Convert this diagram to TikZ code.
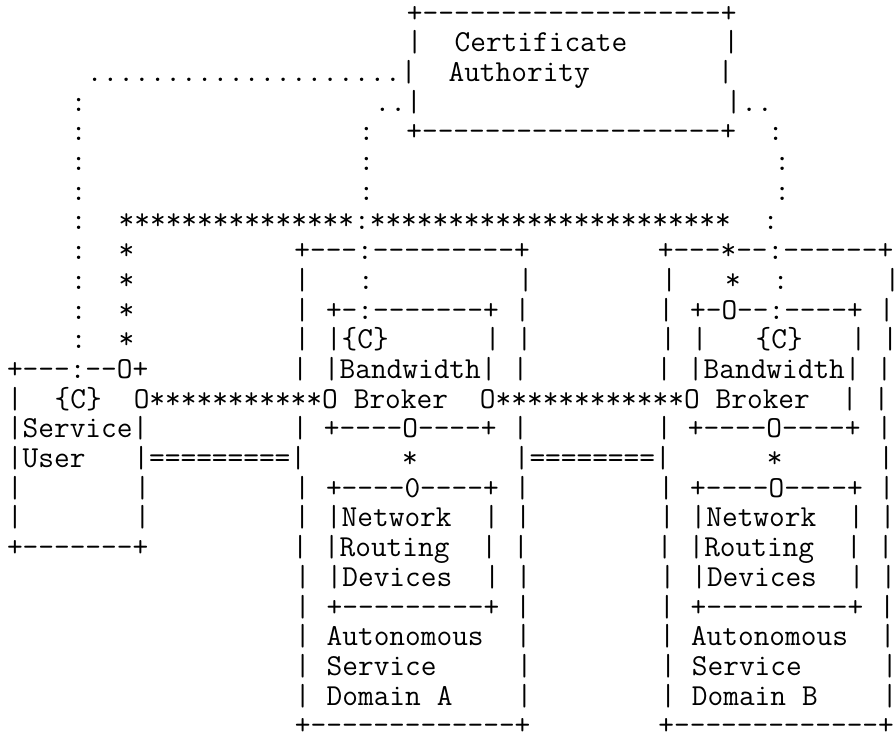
\documentclass[tikz,border=0pt]{standalone}
\usepackage{fontspec}
\setmonofont{Latin Modern Mono}
\newcommand\asciifont{\ttfamily\fontsize{30.476pt}{30pt}\selectfont}
\newcommand\sk[1]{\hspace*{\dimexpr16pt*#1\relax}}
\tikzset{
  asc/.style={anchor=base west, inner sep=0pt, outer sep=0pt, font=\asciifont, text=black},
}
\begin{document}
\begin{tikzpicture}[x=1pt,y=-1pt]
\useasboundingbox (0,0) rectangle (895,745);
\clip (0,0) rectangle (895,745);
\def\lx{7}
\def\ly#1{\fpeval{22+29.7*(#1-1)}}
\node[asc] (l1)  at (\lx,{\ly{1}})  {\sk{25}+-------------------+};
\node[asc] (l2)  at (\lx,{\ly{2}})  {\sk{25}|\sk{2}Certificate\sk{6}|};
\node[asc] (l3)  at (\lx,{\ly{3}})  {\sk{5}....................|\sk{2}Authority\sk{8}|};
\node[asc] (l4)  at (\lx,{\ly{4}})  {\sk{4}:\sk{18}..|\sk{19}|..};
\node[asc] (l5)  at (\lx,{\ly{5}})  {\sk{4}:\sk{17}:\sk{2}+-------------------+\sk{2}:};
\node[asc] (l6)  at (\lx,{\ly{6}})  {\sk{4}:\sk{17}:\sk{25}:};
\node[asc] (l7)  at (\lx,{\ly{7}})  {\sk{4}:\sk{17}:\sk{25}:};
\node[asc] (l8)  at (\lx,{\ly{8}})  {\sk{4}:\sk{2}***************:***********************\sk{2}:};
\node[asc] (l9)  at (\lx,{\ly{9}})  {\sk{4}:\sk{2}*\sk{10}+---:---------+\sk{8}+---*--:------+};
\node[asc] (l10) at (\lx,{\ly{10}}) {\sk{4}:\sk{2}*\sk{10}|\sk{3}:\sk{9}|\sk{8}|\sk{3}*\sk{2}:\sk{6}|};
\node[asc] (l11) at (\lx,{\ly{11}}) {\sk{4}:\sk{2}*\sk{10}|\sk{1}+-:-------+\sk{1}|\sk{8}|\sk{1}+-O--:----+\sk{1}|};
\node[asc] (l12) at (\lx,{\ly{12}}) {\sk{4}:\sk{2}*\sk{10}|\sk{1}|\{C\}\sk{6}|\sk{1}|\sk{8}|\sk{1}|\sk{3}\{C\}\sk{3}|\sk{1}|};
\node[asc] (l13) at (\lx,{\ly{13}}) {+---:--O+\sk{9}|\sk{1}|Bandwidth|\sk{1}|\sk{8}|\sk{1}|Bandwidth|\sk{1}|};
\node[asc] (l14) at (\lx,{\ly{14}}) {|\sk{2}\{C\}\sk{2}O***********O\sk{1}Broker\sk{2}O************O\sk{1}Broker\sk{2}|\sk{1}|};
\node[asc] (l15) at (\lx,{\ly{15}}) {|Service|\sk{9}|\sk{1}+----O----+\sk{1}|\sk{8}|\sk{1}+----O----+\sk{1}|};
\node[asc] (l16) at (\lx,{\ly{16}}) {|User\sk{3}|=========|\sk{6}*\sk{6}|========|\sk{6}*\sk{6}|};
\node[asc] (l17) at (\lx,{\ly{17}}) {|\sk{7}|\sk{9}|\sk{1}+----0----+\sk{1}|\sk{8}|\sk{1}+----O----+\sk{1}|};
\node[asc] (l18) at (\lx,{\ly{18}}) {|\sk{7}|\sk{9}|\sk{1}|Network\sk{2}|\sk{1}|\sk{8}|\sk{1}|Network\sk{2}|\sk{1}|};
\node[asc] (l19) at (\lx,{\ly{19}}) {+-------+\sk{9}|\sk{1}|Routing\sk{2}|\sk{1}|\sk{8}|\sk{1}|Routing\sk{2}|\sk{1}|};
\node[asc] (l20) at (\lx,{\ly{20}}) {\sk{18}|\sk{1}|Devices\sk{2}|\sk{1}|\sk{8}|\sk{1}|Devices\sk{2}|\sk{1}|};
\node[asc] (l21) at (\lx,{\ly{21}}) {\sk{18}|\sk{1}+---------+\sk{1}|\sk{8}|\sk{1}+---------+\sk{1}|};
\node[asc] (l22) at (\lx,{\ly{22}}) {\sk{18}|\sk{1}Autonomous\sk{2}|\sk{8}|\sk{1}Autonomous\sk{2}|};
\node[asc] (l23) at (\lx,{\ly{23}}) {\sk{18}|\sk{1}Service\sk{5}|\sk{8}|\sk{1}Service\sk{5}|};
\node[asc] (l24) at (\lx,{\ly{24}}) {\sk{18}|\sk{1}Domain\sk{1}A\sk{4}|\sk{8}|\sk{1}Domain\sk{1}B\sk{4}|};
\node[asc] (l25) at (\lx,{\ly{25}}) {\sk{18}+-------------+\sk{8}+-------------+};
\end{tikzpicture}
\end{document}
